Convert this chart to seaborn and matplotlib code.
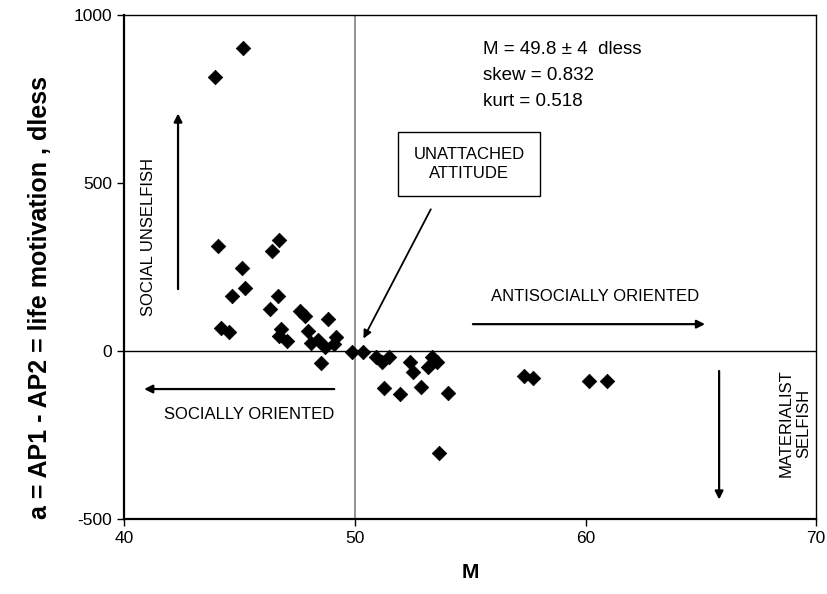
import matplotlib
matplotlib.use("Agg")
import matplotlib.pyplot as plt
import seaborn as sns
import pandas as pd

M_values = [45.16, 43.94, 44.06, 46.71, 46.42, 45.13, 45.23, 44.68, 46.68, 46.33,
            47.64, 47.86, 48.84, 44.22, 44.55, 46.79, 46.73, 47.08, 47.96, 48.12,
            48.42, 48.71, 49.19, 49.10, 48.55, 49.87, 50.37, 50.92, 51.17, 51.50,
            52.40, 52.54, 53.34, 53.55, 53.16, 51.28, 51.96, 52.86, 54.06, 53.67,
            57.35, 57.71, 60.16, 60.92]
a_values = [902, 815, 313, 330, 298, 247, 187, 164, 164, 126,
            120, 105, 95, 69, 56, 65, 45, 30, 60, 23,
            33, 13, 43, 20, -37, -2, -2, -19, -32, -19,
            -34, -62, -19, -34, -47, -111, -128, -108, -124, -303,
            -74, -79, -89, -89]

x_ticks = [40, 50, 60, 70]
y_ticks = [-500, 0, 500, 1000]

sns.set_theme(style="white")
plt.rcParams['font.family'] = ['Liberation Sans', 'DejaVu Sans']
plt.rcParams['axes.unicode_minus'] = False
plt.rcParams['text.color'] = 'black'
plt.rcParams['axes.labelcolor'] = 'black'
plt.rcParams['xtick.color'] = 'black'
plt.rcParams['ytick.color'] = 'black'

df = pd.DataFrame({"M": M_values, "a": a_values})

fig = plt.figure(figsize=(8.27, 5.94), dpi=100)
ax = fig.add_axes([0.150, 0.126, 0.837, 0.849])

ax.axvline(50, color="#808080", lw=1.2, zorder=1)
ax.axhline(0, color="black", lw=1.0, zorder=1)

sns.scatterplot(data=df, x="M", y="a", marker="D", color="black", s=55,
                edgecolor="black", linewidth=0.5, ax=ax, zorder=3)

ax.set_xlim(40, 70)
ax.set_ylim(-500, 1000)
ax.set_xticks(x_ticks)
ax.set_yticks(y_ticks)
ax.tick_params(axis="both", which="major", direction="out", length=5, width=1,
               labelsize=12.5, color="black", labelcolor="black", bottom=True, left=True)
for s in ax.spines.values():
    s.set_color("black")
    s.set_linewidth(1.0)
ax.spines["left"].set_linewidth(1.6)
ax.spines["bottom"].set_linewidth(1.6)

ax.set_xlabel("M", fontsize=15, fontweight="bold", labelpad=12)
ax.set_ylabel("a = AP1 - AP2 = life motivation , dless", fontsize=18,
              fontweight="bold")
ax.yaxis.set_label_coords(-0.104, 0.44)

fs = 12
ax.text(55.56, 922, "M = 49.8 ± 4  dless\nskew = 0.832\nkurt = 0.518",
        fontsize=13.5, ha="left", va="top", linespacing=1.7)

arrow_kw = dict(arrowstyle="-|>", color="black", lw=1.6, mutation_scale=12)

ax.text(41.04, 339, "SOCIAL UNSELFISH", rotation=90, fontsize=fs,
        ha="center", va="center")
ax.annotate("", xy=(42.34, 715), xytext=(42.34, 176), arrowprops=arrow_kw)

ax.text(54.95, 557, "UNATTACHED\nATTITUDE", fontsize=fs, ha="center",
        va="center", linespacing=1.3,
        bbox=dict(boxstyle="square,pad=0.9", fc="white", ec="black", lw=1.0))
ax.annotate("", xy=(50.32, 30), xytext=(53.35, 429),
            arrowprops=dict(arrowstyle="-|>", color="black", lw=1.3, mutation_scale=12))

ax.text(60.42, 161, "ANTISOCIALLY ORIENTED", fontsize=fs, ha="center", va="center")
ax.annotate("", xy=(65.3, 80), xytext=(55.0, 80), arrowprops=arrow_kw)

ax.text(45.42, -190, "SOCIALLY ORIENTED", fontsize=fs, ha="center", va="center")
ax.annotate("", xy=(40.75, -113), xytext=(49.23, -113), arrowprops=arrow_kw)

ax.text(69.09, -214, "MATERIALIST\nSELFISH", rotation=90, fontsize=fs,
        ha="center", va="center", linespacing=1.2)
ax.annotate("", xy=(65.79, -450), xytext=(65.79, -51), arrowprops=arrow_kw)

fig.savefig("out.png", dpi=100)
